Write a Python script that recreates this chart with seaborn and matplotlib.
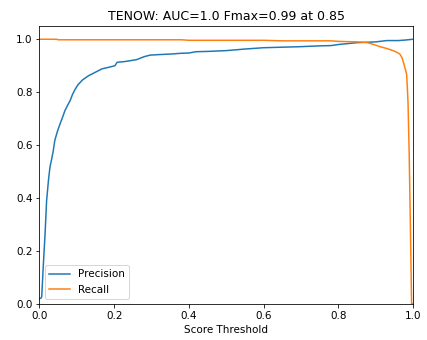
import matplotlib
matplotlib.use("Agg")
import matplotlib.pyplot as plt
import seaborn as sns
import pandas as pd

thr_p = [0.0, 0.004, 0.006, 0.01, 0.015, 0.019, 0.024, 0.028, 0.033, 0.037, 0.041, 0.048, 0.055, 0.062, 0.068, 0.075, 0.082, 0.088, 0.095, 0.103, 0.115, 0.131, 0.145, 0.167, 0.185, 0.202, 0.208, 0.23, 0.26, 0.28, 0.296, 0.32, 0.35, 0.38, 0.4, 0.42, 0.45, 0.5, 0.55, 0.6, 0.65, 0.7, 0.75, 0.78, 0.8, 0.85, 0.9, 0.93, 0.96, 0.98, 1.0]
precision = [0.02, 0.022, 0.028, 0.14, 0.267, 0.39, 0.467, 0.517, 0.55, 0.58, 0.618, 0.652, 0.68, 0.706, 0.73, 0.75, 0.768, 0.79, 0.81, 0.828, 0.846, 0.862, 0.872, 0.888, 0.894, 0.9, 0.913, 0.916, 0.923, 0.934, 0.94, 0.942, 0.944, 0.947, 0.948, 0.953, 0.954, 0.957, 0.963, 0.968, 0.97, 0.972, 0.975, 0.976, 0.98, 0.987, 0.99, 0.995, 0.995, 0.997, 1.0]

thr_r = [0.0, 0.046, 0.05, 0.38, 0.4, 0.6, 0.65, 0.78, 0.8, 0.85, 0.876, 0.895, 0.912, 0.93, 0.947, 0.958, 0.965, 0.971, 0.976, 0.98, 0.983, 0.985, 0.987, 0.99, 0.993, 0.9965, 0.998, 1.0]
recall = [1.0, 1.0, 0.998, 0.998, 0.996, 0.996, 0.994, 0.994, 0.992, 0.99, 0.988, 0.98, 0.972, 0.965, 0.957, 0.95, 0.944, 0.93, 0.906, 0.885, 0.869, 0.82, 0.757, 0.568, 0.316, 0.0, 0.0, 0.0]

df = pd.concat([
    pd.DataFrame({"thr": thr_p, "val": precision, "curve": "Precision"}),
    pd.DataFrame({"thr": thr_r, "val": recall, "curve": "Recall"}),
])

plt.rcParams["font.size"] = 10.4
fig = plt.figure(figsize=(427 / 72, 340 / 72), dpi=72)
ax = fig.add_axes([0.0925, 0.106, 0.8745, 0.8175])
sns.lineplot(data=df, x="thr", y="val", hue="curve", palette=["#1f77b4", "#ff7f0e"],
             ax=ax, estimator=None, sort=False, linewidth=1.5)
ax.set_xlim(0, 1)
ax.set_ylim(0, 1.05)
ax.set_xlabel("Score Threshold")
ax.set_ylabel("")
ax.set_title("TENOW: AUC=1.0 Fmax=0.99 at 0.85")
ax.legend(loc="lower left", title=None)
fig.savefig("out.png", dpi=72)
